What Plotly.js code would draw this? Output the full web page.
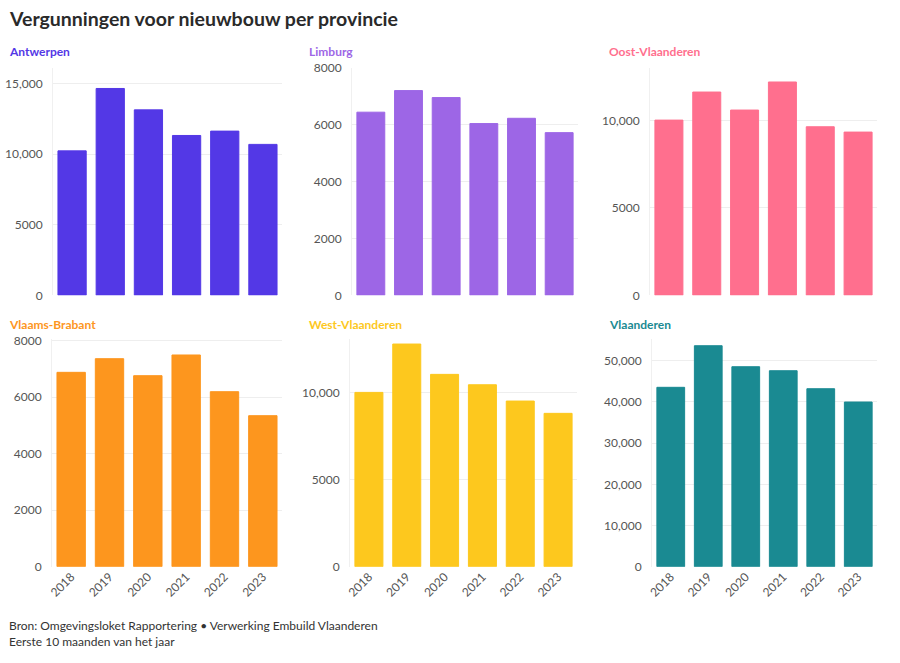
<!DOCTYPE html>
<html>
<head>
<meta charset="utf-8">
<script src="https://cdn.plot.ly/plotly-3.0.1.min.js"></script>
<style>
  html, body { margin: 0; padding: 0; background: #fff; }
  #chart { width: 900px; height: 663px; }
</style>
</head>
<body>
<div id="chart"></div>
<script>
// ---- Data ----
const years = ['2018', '2019', '2020', '2021', '2022', '2023'];
const provinces = ['Antwerpen', 'Limburg', 'Oost-Vlaanderen', 'Vlaams-Brabant', 'West-Vlaanderen', 'Vlaanderen'];
const antwerpen      = [10230, 14650, 13135, 11320, 11630, 10690];
const limburg        = [6445, 7205, 6960, 6045, 6230, 5725];
const oostVlaanderen = [10020, 11625, 10595, 12200, 9640, 9335];
const vlaamsBrabant  = [6880, 7363, 6761, 7494, 6195, 5345];
const westVlaanderen = [10020, 12800, 11057, 10460, 9523, 8816];
const vlaanderen     = [43540, 53640, 48540, 47570, 43200, 39970];
const tickValsAntwerpen = [0, 5000, 10000, 15000];
const tickValsLimburg   = [0, 2000, 4000, 6000, 8000];
const tickValsOost      = [0, 5000, 10000];
const tickValsBrabant   = [0, 2000, 4000, 6000, 8000];
const tickValsWest      = [0, 5000, 10000];
const tickValsVlaanderen = [0, 10000, 20000, 30000, 40000, 50000];
const titleText = 'Vergunningen voor nieuwbouw per provincie';
const sourceLine1 = 'Bron: Omgevingsloket Rapportering • Verwerking Embuild Vlaanderen';
const sourceLine2 = 'Eerste 10 maanden van het jaar';

// ---- Styling ----
const W = 900, H = 663;
const FONT = 'Lato, "Source Sans Pro", "Open Sans", sans-serif';
const series = [antwerpen, limburg, oostVlaanderen, vlaamsBrabant, westVlaanderen, vlaanderen];
const tickSets = [tickValsAntwerpen, tickValsLimburg, tickValsOost, tickValsBrabant, tickValsWest, tickValsVlaanderen];
const colors = ['#5338e6', '#9d66e6', '#ff6f8e', '#fd961e', '#fdc81e', '#1a8a92'];
const ranges = [[0, 16100], [0, 8000], [0, 13000], [0, 8060], [0, 13090], [0, 55270]];
// panel pixel boxes [x0, x1, y0(top), y1(bottom)]
const boxes = [
  [53, 282, 68, 295.3],
  [352, 578, 68, 295.3],
  [650, 877, 68, 295.3],
  [52, 282, 339, 566.7],
  [350, 577, 339, 566.7],
  [652, 877, 339, 566.7]
];
const titlePos = [[7, 52], [307, 52], [607, 52], [7, 324], [307, 324], [607, 324]];

function fmt(v) {
  return v >= 10000 ? v.toLocaleString('en-US') : String(v);
}

const data = [];
const layout = {
  width: W, height: H,
  margin: {l: 0, r: 0, t: 0, b: 0},
  paper_bgcolor: '#fff', plot_bgcolor: '#fff',
  showlegend: false,
  bargap: 0.26,
  font: {family: FONT, size: 12, color: '#555'},
  annotations: [],
  title: {
    text: '<b>' + titleText + '</b>',
    x: 10 / W, xanchor: 'left', xref: 'paper',
    y: 1 - 19 / H, yanchor: 'middle', yref: 'paper',
    font: {family: FONT, size: 19.5, color: '#2a2a2a'}
  }
};

series.forEach((vals, i) => {
  const n = i + 1;
  const xa = 'x' + (n === 1 ? '' : n);
  const ya = 'y' + (n === 1 ? '' : n);
  data.push({
    type: 'bar', x: years, y: vals, xaxis: xa, yaxis: ya,
    marker: {color: colors[i], line: {color: colors[i], width: 1}},
    hoverinfo: 'x+y'
  });
  const b = boxes[i];
  const bottomRow = i >= 3;
  layout['xaxis' + (n === 1 ? '' : n)] = {
    domain: [b[0] / W, b[1] / W],
    anchor: ya,
    type: 'category',
    showgrid: false, zeroline: false, showline: false,
    showticklabels: bottomRow,
    tickangle: -45,
    ticks: '', ticklen: 0,
    tickfont: {family: FONT, size: 12, color: '#555'},
    fixedrange: true
  };
  layout['yaxis' + (n === 1 ? '' : n)] = {
    domain: [1 - b[3] / H, 1 - b[2] / H],
    anchor: xa,
    range: ranges[i],
    tickvals: tickSets[i],
    ticktext: tickSets[i].map(fmt),
    showgrid: true, gridcolor: '#eeeeee', gridwidth: 1,
    zeroline: false,
    showline: true, linecolor: '#f0f0f0', linewidth: 1,
    ticks: 'outside', ticklen: 7, tickcolor: 'rgba(0,0,0,0)',
    tickfont: {family: FONT, size: 12, color: '#555'},
    fixedrange: true
  };
  layout.annotations.push({
    text: '<b>' + provinces[i] + '</b>',
    xref: 'paper', yref: 'paper',
    x: titlePos[i][0] / W, y: 1 - titlePos[i][1] / H,
    xanchor: 'left', yanchor: 'middle', showarrow: false,
    font: {family: FONT, size: 12, color: colors[i]}
  });
});

layout.annotations.push({
  text: sourceLine1 + '<br>' + sourceLine2,
  xref: 'paper', yref: 'paper',
  x: 7 / W, y: 1 - 633 / H,
  xanchor: 'left', yanchor: 'middle', align: 'left', showarrow: false,
  font: {family: FONT, size: 12, color: '#333'}
});

Plotly.newPlot('chart', data, layout, {displayModeBar: false, staticPlot: true});
</script>
</body>
</html>
